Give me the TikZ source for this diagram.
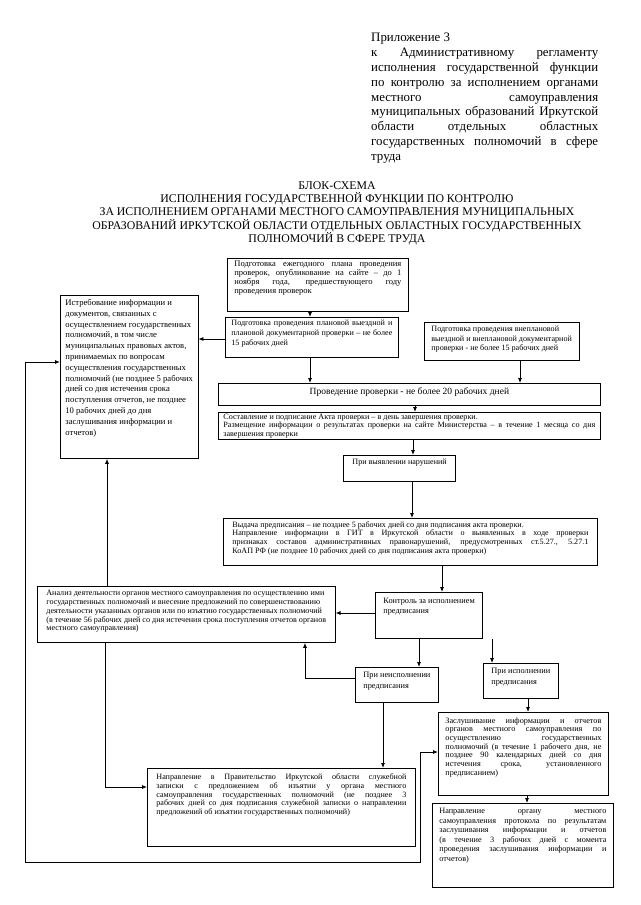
\documentclass[tikz,border=0pt]{standalone}
\usepackage{fontspec}
\setmainfont{Liberation Serif}
\usetikzlibrary{arrows.meta}
\newcommand{\jst}[1]{\hbox to\linewidth{#1}}
\newcommand{\lft}[1]{\hbox{#1}}
\newcommand{\fs}[2]{\fontsize{#1}{#2}\selectfont}
\tikzset{
  bx/.style={draw, line width=0.8pt, anchor=north west, inner xsep=5pt, inner ysep=3pt},
  arr/.style={-{Latex[length=5pt,width=4pt]}, line width=0.8pt},
  darr/.style={{Latex[length=5pt,width=4pt]}-{Latex[length=5pt,width=4pt]}, line width=0.8pt},
  ln/.style={line width=0.8pt}
}
\begin{document}
\begin{tikzpicture}[x=1pt,y=-1pt]
\fill[white] (0,0) rectangle (640,905);
\useasboundingbox (0,0) rectangle (640,905);

% header
\node[anchor=north west, inner sep=0] (hdr) at (371,33) {\parbox[t]{227pt}{\fs{12.9}{14.85}%
\lft{Приложение 3}%
\jst{к Административному регламенту}%
\jst{исполнения государственной функции}%
\jst{по контролю за исполнением органами}%
\jst{местного самоуправления}%
\jst{муниципальных образований Иркутской}%
\jst{области отдельных областных}%
\jst{государственных полномочий в сфере}%
\lft{труда}}};

% title
\node[anchor=north, align=center, inner sep=0, font={\fs{11.8}{13.4}}] (ttl) at (337,181)
{БЛОК-СХЕМА\\ИСПОЛНЕНИЯ ГОСУДАРСТВЕННОЙ ФУНКЦИИ ПО КОНТРОЛЮ\\ЗА ИСПОЛНЕНИЕМ ОРГАНАМИ МЕСТНОГО САМОУПРАВЛЕНИЯ МУНИЦИПАЛЬНЫХ\\ОБРАЗОВАНИЙ ИРКУТСКОЙ ОБЛАСТИ ОТДЕЛЬНЫХ ОБЛАСТНЫХ ГОСУДАРСТВЕННЫХ\\ПОЛНОМОЧИЙ В СФЕРЕ ТРУДА};

% boxes
\node[bx, inner xsep=7pt] (A) at (227,258) {\parbox[t][47pt][t]{167pt}{\fs{8.5}{8.7}%
\jst{Подготовка ежегодного плана проведения}%
\jst{проверок, опубликование на сайте – до 1}%
\jst{ноября года, предшествующего году}%
\lft{проведения проверок}}};

\node[bx, inner xsep=5pt, inner ysep=4pt] (L) at (60,295) {\parbox[t][155pt][t]{133pt}{\fs{8.6}{10.8}%
\lft{Истребование информации  и}%
\lft{документов, связанных с}%
\lft{осуществлением государственных}%
\lft{полномочий, в том числе}%
\lft{муниципальных правовых актов,}%
\lft{принимаемых по вопросам}%
\lft{осуществления государственных}%
\lft{полномочий (не позднее 5 рабочих}%
\lft{дней со дня истечения срока}%
\lft{поступления отчетов, не позднее}%
\lft{10 рабочих дней до дня}%
\lft{заслушивания информации и}%
\lft{отчетов)}}};

\node[bx, inner xsep=6pt] (B) at (225,317) {\parbox[t][34pt][t]{161pt}{\fs{8.1}{9.8}%
\jst{Подготовка проведения плановой выездной и}%
\jst{плановой документарной проверки – не более}%
\lft{15 рабочих дней}}};

\node[bx, inner xsep=7pt, inner ysep=4pt] (C) at (424,322) {\parbox[t][30pt][t]{157pt}{\fs{8.1}{9.2}%
\lft{Подготовка проведения внеплановой}%
\lft{выездной и внеплановой документарной}%
\lft{проверки - не более 15 рабочих дней}}};

\node[bx, inner ysep=3pt] (P) at (218,383) {\parbox[t][16pt][t]{372pt}{\fs{9.5}{11}\centering
\vspace*{1.5pt}Проведение проверки - не более 20 рабочих дней\par}};

\node[bx, inner xsep=5pt, inner ysep=1.5pt] (Akt) at (218,412) {\parbox[t][24pt][t]{372pt}{\fs{8.1}{8.6}%
\lft{Составление и подписание Акта проверки – в день завершения проверки.}%
\jst{Размещение информации о результатах проверки на сайте Министерства – в течение 1 месяца со дня}%
\lft{завершения проверки}}};

\node[bx, inner xsep=9pt, inner ysep=4pt] (V) at (343,455) {\parbox[t][18pt][t]{119pt}{\fs{8.1}{9}%
\lft{При выявлении нарушений}}};

\node[bx, inner xsep=9pt, inner ysep=3pt] (Vd) at (223,518) {\parbox[t][41pt][t]{356pt}{\fs{8.1}{8.6}%
\lft{Выдача предписания – не позднее 5 рабочих дней со дня подписания акта проверки.}%
\jst{Направление информации в ГИТ в Иркутской области о выявленных в ходе проверки}%
\jst{признаках составов административных правонарушений, предусмотренных ст.5.27., 5.27.1}%
\lft{КоАП РФ (не позднее 10 рабочих дней со дня подписания акта проверки)}}};

\node[bx, inner xsep=9pt, inner ysep=4pt] (An) at (37,586) {\parbox[t][48pt][t]{310pt}{\fs{8.1}{8.8}%
\lft{Анализ деятельности органов местного самоуправления по осуществлению ими}%
\lft{государственных полномочий и внесение предложений по совершенствованию}%
\lft{деятельности указанных органов или по изъятию государственных полномочий}%
\lft{(в течение 56 рабочих дней со дня истечения срока поступления отчетов органов}%
\lft{местного самоуправления)}}};

\node[bx, inner xsep=8pt, inner ysep=6pt] (K) at (375,592) {\parbox[t][34pt][t]{124pt}{\fs{8.3}{10}%
\lft{Контроль за исполнением}%
\lft{предписания}}};

\node[bx, inner xsep=8pt, inner ysep=5pt] (NN) at (355,667) {\parbox[t][25pt][t]{81pt}{\fs{8.3}{10.5}%
\lft{При неисполнении}%
\lft{предписания}}};

\node[bx, inner xsep=8pt, inner ysep=5pt] (NI) at (483,663) {\parbox[t][25pt][t]{71pt}{\fs{8.3}{10.5}%
\lft{При исполнении}%
\lft{предписания}}};

\node[bx, inner xsep=9pt, inner ysep=5pt] (NP) at (147,768) {\parbox[t][68pt][t]{250pt}{\fs{8.1}{8.9}%
\jst{Направление в Правительство Иркутской области служебной}%
\jst{записки с предложением об изъятии у органа местного}%
\jst{самоуправления государственных полномочий (не позднее 3}%
\jst{рабочих дней со дня подписания служебной записки о направлении}%
\lft{предложений об изъятии государственных полномочий)}}};

\node[bx, inner xsep=7pt, inner ysep=5pt] (Z) at (438,712) {\parbox[t][73pt][t]{156pt}{\fs{8.2}{8.7}%
\jst{Заслушивание информации и отчетов}%
\jst{органов местного самоуправления по}%
\jst{осуществлению государственных}%
\jst{полномочий (в течение 1 рабочего дня, не}%
\jst{позднее 90 календарных дней со дня}%
\jst{истечения срока, установленного}%
\lft{предписанием)}}};

\node[bx, inner xsep=7pt, inner ysep=5pt] (NO) at (432,803) {\parbox[t][74pt][t]{167pt}{\fs{8.2}{9.5}%
\jst{Направление органу местного}%
\jst{самоуправления протокола по результатам}%
\jst{заслушивания информации и отчетов}%
\jst{(в течение 3 рабочих дней с момента}%
\jst{проведения заслушивания информации и}%
\lft{отчетов)}}};

% helper corner coordinates
\coordinate (c1) at (305,678);
\coordinate (c2) at (105,787);
\coordinate (c3) at (25,362);
\coordinate (c4) at (25,862);
\coordinate (c5) at (420,862);
\coordinate (c6) at (420,752);

% connectors
\draw[arr] (A.south -| 310,0) -- (B.north -| 310,0);
\draw[arr] (B.west |- 0,339) -- (L.east |- 0,339);
\draw[arr] (B.south -| 310,0) -- (P.north -| 310,0);
\draw[arr] (C.south -| 520,0) -- (P.north -| 520,0);
\draw[arr] (P.south -| 415,0) -- (Akt.north -| 415,0);
\draw[arr] (Akt.south -| 413,0) -- (V.north -| 413,0);
\draw[arr] (V.south -| 412,0) -- (Vd.north -| 412,0);
\draw[arr] (Vd.south -| 442,0) -- (K.north -| 442,0);
\draw[arr] (K.west |- 0,613) -- (An.east |- 0,613);
\draw[arr] (K.south -| 419,0) -- (NN.north -| 419,0);
\draw[arr] (K.south -| 492,0) -- (NI.north -| 492,0);
\draw[arr] (NI.south -| 528,0) -- (Z.north -| 528,0);
\draw[arr] (Z.south -| 527,0) -- (NO.north -| 527,0);
\draw[arr] (NN.south -| 383,0) -- (NP.north -| 383,0);
\draw[arr] (NN.west |- c1) -- (c1) -- (An.south -| c1);
\draw[arr] (An.north -| 107,0) -- (L.south -| 107,0);
\draw[arr] (An.south -| c2) -- (c2) -- (NP.west |- c2);
\draw[darr] (L.west |- c3) -- (c3) -- (c4) -- (c5) -- (c6) -- (Z.west |- c6);
\end{tikzpicture}
\end{document}
